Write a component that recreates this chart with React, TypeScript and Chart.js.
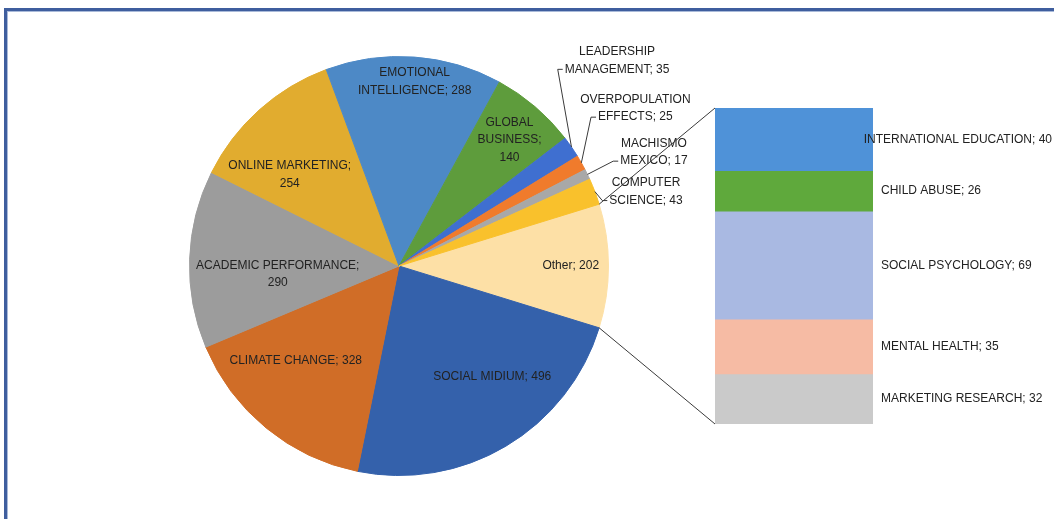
import React, { useEffect, useRef } from "react";
import { Chart, registerables } from "chart.js";

Chart.register(...registerables);

// ---- data ----
const pieCategories = [
  "Other",
  "SOCIAL MIDIUM",
  "CLIMATE CHANGE",
  "ACADEMIC PERFORMANCE",
  "ONLINE MARKETING",
  "EMOTIONAL INTELLIGENCE",
  "GLOBAL BUSINESS",
  "LEADERSHIP MANAGEMENT",
  "OVERPOPULATION EFFECTS",
  "MACHISMO MEXICO",
  "COMPUTER SCIENCE",
];
const pieValues = [202, 496, 328, 290, 254, 288, 140, 35, 25, 17, 43];
const pieColors = [
  "#FDE0A6",
  "#3461AB",
  "#D06D27",
  "#9C9C9C",
  "#E1AC2F",
  "#4D89C6",
  "#5E9C3C",
  "#3F6FD0",
  "#F07B2C",
  "#A8A8A8",
  "#F9C12C",
];

const barCategories = [
  "INTERNATIONAL EDUCATION",
  "CHILD ABUSE",
  "SOCIAL PSYCHOLOGY",
  "MENTAL HEALTH",
  "MARKETING RESEARCH",
];
const barValues = [40, 26, 69, 35, 32];
const barColors = ["#4F92D8", "#5FA93C", "#A9B9E2", "#F6BBA4", "#CACACA"];

// ---- label layout (words per line, angle offset from slice middle, radius fraction) ----
const pieLabelWords = [[2], [3], [3], [2, 1], [2, 1], [1, 2], [1, 1, 1], [1, 2], [1, 2], [1, 2], [1, 2]];
const pieLabelAngleOffset = [0, -9.5, 8, -5.7, -8.2, 0.7, 0.7, -8.7, -4.2, 1.9, 4.1];
const pieLabelRadius = [0.82, 0.69, 0.67, 0.58, 0.68, 0.884, 0.8, 1.43, 1.356, 1.332, 1.231];

const FONT = "12px 'Liberation Sans', Arial, sans-serif";
const TEXT = "#222222";
const LINE_H = 17.5;

const W = 1054;
const H = 519;

function splitLines(text: string, counts: number[]): string[] {
  const words = text.split(" ");
  const out: string[] = [];
  let k = 0;
  for (const c of counts) {
    out.push(words.slice(k, k + c).join(" "));
    k += c;
  }
  return out;
}

export default function App() {
  const pieRef = useRef<HTMLCanvasElement>(null);
  const barRef = useRef<HTMLCanvasElement>(null);

  useEffect(() => {
    const pieTotal = pieValues.reduce((a, b) => a + b, 0);
    const barTotal = barValues.reduce((a, b) => a + b, 0);

    const pieLabelPlugin = {
      id: "pieLabels",
      afterDatasetsDraw(chart: any) {
        const ctx = chart.ctx;
        const meta = chart.getDatasetMeta(0);
        ctx.save();
        ctx.font = FONT;
        ctx.fillStyle = TEXT;
        ctx.textAlign = "center";
        ctx.textBaseline = "middle";
        meta.data.forEach((arc: any, i: number) => {
          const p = arc.getProps(["x", "y", "startAngle", "endAngle", "outerRadius"], true);
          const mid = (p.startAngle + p.endAngle) / 2;
          const ang = mid + (pieLabelAngleOffset[i] * Math.PI) / 180;
          const r = p.outerRadius * pieLabelRadius[i];
          const cx = p.x + Math.cos(ang) * r;
          const cy = p.y + Math.sin(ang) * r;
          const lines = splitLines(`${pieCategories[i]}; ${pieValues[i]}`, pieLabelWords[i]);
          const top = cy - ((lines.length - 1) * LINE_H) / 2;
          lines.forEach((ln, j) => ctx.fillText(ln, cx, top + j * LINE_H));
          if (pieLabelRadius[i] > 1) {
            // leader line from slice edge to label
            const ex = p.x + Math.cos(mid) * p.outerRadius;
            const ey = p.y + Math.sin(mid) * p.outerRadius;
            const last = lines[lines.length - 1];
            const lw = ctx.measureText(last).width;
            const lx = cx - lw / 2 - 2;
            const ly = top + (lines.length - 1) * LINE_H;
            ctx.strokeStyle = "#3a3a3a";
            ctx.lineWidth = 1;
            ctx.beginPath();
            ctx.moveTo(ex, ey);
            ctx.lineTo(lx - 5, ly);
            ctx.lineTo(lx, ly);
            ctx.stroke();
          }
        });
        ctx.restore();
      },
    };

    const pie = new Chart(pieRef.current!, {
      type: "pie",
      data: {
        labels: pieCategories,
        datasets: [
          {
            data: pieValues,
            backgroundColor: pieColors,
            borderColor: pieColors,
            borderWidth: 1,
          },
        ],
      },
      options: {
        responsive: false,
        animation: false,
        rotation: 90 - (pieValues[0] / pieTotal) * 180,
        layout: { padding: { left: 189, right: 445, top: 56, bottom: 43 } },
        plugins: { legend: { display: false }, tooltip: { enabled: false } },
      } as any,
      plugins: [pieLabelPlugin],
    });

    const barLabelPlugin = {
      id: "barLabels",
      afterDatasetsDraw(chart: any) {
        const ctx = chart.ctx;
        ctx.save();
        // connector lines from the "Other" slice to the bar
        const arc = pie.getDatasetMeta(0).data[0] as any;
        const p = arc.getProps(["x", "y", "startAngle", "endAngle", "outerRadius"], true);
        const yScale = chart.scales.y;
        const left = chart.chartArea.left;
        const topY = yScale.getPixelForValue(0);
        const botY = yScale.getPixelForValue(barTotal);
        ctx.strokeStyle = "#3a3a3a";
        ctx.lineWidth = 1;
        ctx.beginPath();
        ctx.moveTo(p.x + Math.cos(p.startAngle) * p.outerRadius, p.y + Math.sin(p.startAngle) * p.outerRadius);
        ctx.lineTo(left, topY);
        ctx.moveTo(p.x + Math.cos(p.endAngle) * p.outerRadius, p.y + Math.sin(p.endAngle) * p.outerRadius);
        ctx.lineTo(left, botY);
        ctx.stroke();

        ctx.font = FONT;
        ctx.fillStyle = TEXT;
        ctx.textAlign = "left";
        ctx.textBaseline = "middle";
        chart.data.datasets.forEach((ds: any, i: number) => {
          const bar = chart.getDatasetMeta(i).data[0] as any;
          const b = bar.getProps(["x", "y", "base", "width"], true);
          const cy = (b.y + b.base) / 2;
          const txt = `${barCategories[i]}; ${barValues[i]}`;
          const tw = ctx.measureText(txt).width;
          const tx = Math.min(b.x + b.width / 2 + 8, chart.width - 2 - tw);
          ctx.fillText(txt, tx, cy);
        });
        ctx.restore();
      },
    };

    const bar = new Chart(barRef.current!, {
      type: "bar",
      data: {
        labels: [""],
        datasets: barCategories.map((c, i) => ({
          label: c,
          data: [barValues[i]],
          backgroundColor: barColors[i],
          borderWidth: 0,
          categoryPercentage: 1,
          barPercentage: 1,
        })),
      },
      options: {
        responsive: false,
        animation: false,
        layout: { padding: { left: 715, right: 181, top: 108, bottom: 95 } },
        scales: {
          x: { display: false, stacked: true },
          y: { display: false, stacked: true, reverse: true, min: 0, max: barTotal },
        },
        plugins: { legend: { display: false }, tooltip: { enabled: false } },
      } as any,
      plugins: [barLabelPlugin],
    });

    return () => {
      bar.destroy();
      pie.destroy();
    };
  }, []);

  return (
    <div
      style={{
        position: "fixed",
        left: 0,
        top: 0,
        width: W,
        height: H,
        background: "#ffffff",
        overflow: "hidden",
      }}
    >
      <div
        style={{
          position: "absolute",
          left: 4,
          top: 8,
          width: W + 50,
          height: H + 50,
          borderTop: "3px solid #3F5E9E",
          borderLeft: "3px solid #3F5E9E",
          boxShadow: "inset 1px 1px 0 #A9BAD9",
        }}
      />
      <canvas
        ref={pieRef}
        width={W}
        height={H}
        style={{ position: "absolute", left: 0, top: 0, width: W, height: H }}
      />
      <canvas
        ref={barRef}
        width={W}
        height={H}
        style={{ position: "absolute", left: 0, top: 0, width: W, height: H }}
      />
    </div>
  );
}
